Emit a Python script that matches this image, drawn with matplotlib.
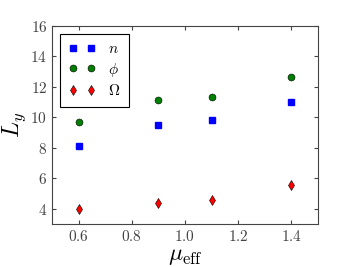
import matplotlib
matplotlib.use("Agg")
import matplotlib.pyplot as plt

plt.rcParams["mathtext.fontset"] = "cm"
plt.rcParams["font.family"] = "serif"
plt.rcParams["font.serif"] = ["DejaVu Serif"]
plt.rcParams["xtick.direction"] = "in"
plt.rcParams["ytick.direction"] = "in"

mu_eff = [0.6, 0.9, 1.1, 1.4]
n_vals = [8.1, 9.5, 9.8, 11.0]
phi_vals = [9.7, 11.15, 11.35, 12.65]
omega_vals = [4.0, 4.4, 4.6, 5.55]

xticks = [0.6, 0.8, 1.0, 1.2, 1.4]
yticks = [4, 6, 8, 10, 12, 14, 16]

fig = plt.figure(figsize=(3.54, 2.67), dpi=100)
ax = fig.add_axes([0.147, 0.161, 0.751, 0.742])

ax.plot(mu_eff, n_vals, "s", color="blue", mec="blue", ms=5, label=r"$n$")
ax.plot(mu_eff, phi_vals, "o", color="green", mec="black", mew=0.4, ms=5, label=r"$\phi$")
ax.plot(mu_eff, omega_vals, "d", color="red", mec="black", mew=0.4, ms=5, label=r"$\Omega$")

ax.set_xlim(0.5, 1.5)
ax.set_ylim(3, 16)
ax.set_xticks(xticks)
ax.set_yticks(yticks)
ax.set_xticklabels([r"$%.1f$" % v for v in xticks], fontsize=11)
ax.set_yticklabels([r"$%d$" % v for v in yticks], fontsize=11)
ax.tick_params(top=True, right=True, length=3, color="#444444", labelcolor="#444444")
for s in ax.spines.values():
    s.set_color("#444444")

ax.set_xlabel(r"$\mu_{\rm eff}$", fontsize=17, labelpad=0)
ax.set_ylabel(r"$L_y$", fontsize=17, labelpad=2)

leg = ax.legend(loc="upper left", numpoints=2, fontsize=11, fancybox=False,
                framealpha=1, edgecolor="black", borderaxespad=0.5,
                handlelength=1.8, handletextpad=0.8, labelspacing=0.3,
                borderpad=0.55)
leg.get_frame().set_linewidth(0.8)

fig.savefig("out.png", dpi=100)
